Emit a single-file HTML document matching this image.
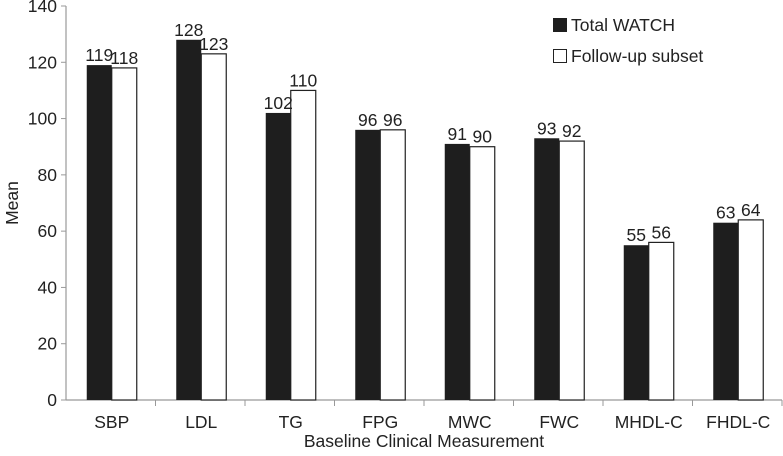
<!DOCTYPE html>
<html><head><meta charset="utf-8"><style>
body{margin:0;background:#fff;}
svg{display:block;font-family:"Liberation Sans",sans-serif;}
</style></head><body>
<svg id="chart" width="783" height="456"></svg>
<script>
const categories=["SBP","LDL","TG","FPG","MWC","FWC","MHDL-C","FHDL-C"];
const totalWatch=[119,128,102,96,91,93,55,63];
const followUp=[118,123,110,96,90,92,56,64];
const yTicks=[0,20,40,60,80,100,120,140];
const NS="http://www.w3.org/2000/svg";
const svg=document.getElementById('chart');
const x0=66,x1=782,y0=400,yTop=6,yMax=140,FS=17.5;
const band=(x1-x0)/categories.length;
const y=v=>y0-(v/yMax)*(y0-yTop);
const bx=i=>x0+band*i;
function mk(t,a,txt){const e=document.createElementNS(NS,t);for(const k in a)e.setAttribute(k,a[k]);if(txt!==undefined)e.textContent=txt;svg.appendChild(e);return e;}
let e;
e=mk('line',{x1:x0,y1:yTop,x2:x0,y2:y0,stroke:'#999','stroke-width':1.2});


e=mk('line',{x1:x0,y1:y0,x2:x1,y2:y0,stroke:'#999','stroke-width':1.2});


yTicks.forEach(t=>{
 e=mk('line',{x1:x0-5,y1:y(t),x2:x0,y2:y(t),stroke:'#999'});
 
 
 e=mk('text',{x:x0-9,y:y(t)+6,'text-anchor':'end','font-size':FS,fill:'#222'},t);
 
 
});
categories.forEach((c,i)=>{
 e=mk('line',{x1:bx(i+1),y1:y0,x2:bx(i+1),y2:y0+6,stroke:'#999'});
 
 
 const cx=bx(i)+band/2+1;
 e=mk('text',{x:cx,y:y0+28,'text-anchor':'middle','font-size':FS,fill:'#222'},c);
 
 
 const w=25;
 e=mk('rect',{x:cx-w,y:y(totalWatch[i]),width:w,height:y0-y(totalWatch[i]),fill:'#1e1e1e'});
 
 
 e=mk('rect',{x:cx,y:y(followUp[i]),width:w,height:y0-y(followUp[i]),fill:'#fff',stroke:'#222','stroke-width':1.2});
 
 
 e=mk('text',{x:cx-w/2,y:y(totalWatch[i])-4,'text-anchor':'middle','font-size':FS,fill:'#222'},totalWatch[i]);
 
 
 e=mk('text',{x:cx+w/2,y:y(followUp[i])-4,'text-anchor':'middle','font-size':FS,fill:'#222'},followUp[i]);
 
 
});
e=mk('text',{x:18,y:203,'text-anchor':'middle','font-size':FS,fill:'#222',transform:'rotate(-90 18 203)'},'Mean');


e=mk('text',{x:424,y:447,'text-anchor':'middle','font-size':FS,fill:'#222'},'Baseline Clinical Measurement');


e=mk('rect',{x:553,y:18,width:14,height:14,fill:'#1e1e1e'});


e=mk('text',{x:571,y:31,'font-size':FS,fill:'#222'},'Total WATCH');


e=mk('rect',{x:553.5,y:49.5,width:13,height:13,fill:'#fff',stroke:'#222'});


e=mk('text',{x:571,y:62,'font-size':FS,fill:'#222'},'Follow-up subset');


</script>
</body></html>
